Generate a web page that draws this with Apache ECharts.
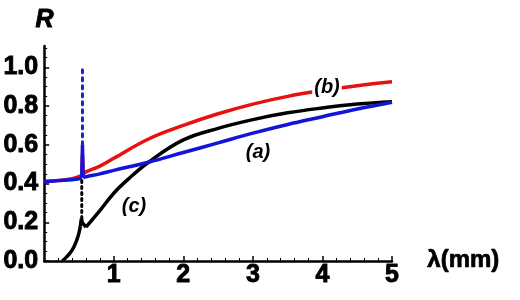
<!DOCTYPE html>
<html>
<head>
<meta charset="utf-8">
<script src="https://cdn.jsdelivr.net/npm/echarts@6/dist/echarts.min.js"></script>
<style>html,body{margin:0;padding:0;background:#fff;}#c{width:520px;height:300px;}</style>
</head>
<body>
<div id="c"></div>
<script>
// wavelength (mm) samples and reflectance values
// (a) blue
const lamA = [0, 0.2, 0.4, 0.5, 0.54, 0.55, 0.56, 0.6, 0.8, 1.0, 1.5, 2.0, 2.5, 3.0, 3.5, 4.0, 4.5, 5.0];
const valA = [0.41, 0.415, 0.42, 0.425, 0.43, 0.6, 0.43, 0.435, 0.45, 0.468, 0.51, 0.56, 0.61, 0.66, 0.705, 0.745, 0.785, 0.82];
// (b) red
const lamB = [0, 0.2, 0.4, 0.5, 0.54, 0.55, 0.56, 0.6, 0.8, 1.0, 1.5, 2.0, 2.5, 3.0, 3.5, 4.0, 4.5, 5.0];
const valB = [0.41, 0.415, 0.425, 0.435, 0.445, 0.55, 0.45, 0.46, 0.49, 0.53, 0.63, 0.70, 0.76, 0.81, 0.85, 0.88, 0.905, 0.925];
// (c) black
const lamC = [0.26, 0.32, 0.38, 0.43, 0.47, 0.5, 0.52, 0.535, 0.545, 0.6, 0.8, 1.0, 1.2, 1.5, 2.0, 2.5, 3.0, 3.5, 4.0, 4.5, 5.0];
const valC = [0, 0.02, 0.045, 0.075, 0.11, 0.145, 0.18, 0.22, 0.2, 0.175, 0.26, 0.35, 0.42, 0.51, 0.625, 0.685, 0.73, 0.765, 0.79, 0.81, 0.822];
// resonance spikes (dotted)
const spikeLamA = [0.55, 0.55];
const spikeValA = [0.6, 1.0];
const spikeLamC = [0.54, 0.54];
const spikeValC = [0.22, 0.43];
// ticks
const xTicks = [1, 2, 3, 4, 5];
const yTicks = [0, 0.2, 0.4, 0.6, 0.8, 1.0];
const xMinor = [];
for (let i = 1; i < 25; i++) if (i % 5) xMinor.push(i * 0.2);
const yMinor = [];
for (let i = 1; i <= 22; i++) if (i % 4) yMinor.push(i * 0.05);

const zip = (a, b) => a.map((v, i) => [v, b[i]]);
// split a curve at the resonance into smooth-before, sharp-resonance, smooth-after parts
function parts(lam, val, lo, hi) {
  const all = zip(lam, val);
  return [
    all.filter(p => p[0] <= lo),
    all.filter(p => p[0] >= lo && p[0] <= hi),
    all.filter(p => p[0] >= hi)
  ];
}
const font = '"Liberation Sans", Arial, sans-serif';
const heavy = { color: '#000', fontSize: 25, fontWeight: 'bold', fontFamily: font, textBorderColor: '#000', textBorderWidth: 0.9 };

function curve(lam, val, lo, hi, color, z) {
  const [a, b, c] = parts(lam, val, lo, hi);
  const ls = { color: color, width: 3.5 };
  return [
    { type: 'line', data: a, showSymbol: false, smooth: 0.4, lineStyle: ls, z: z },
    { type: 'line', data: b, showSymbol: false, smooth: false, lineStyle: ls, z: z },
    { type: 'line', data: c, showSymbol: false, smooth: 0.4, lineStyle: ls, z: z }
  ];
}

const chart = echarts.init(document.getElementById('c'));
chart.setOption({
  animation: false,
  backgroundColor: '#fff',
  grid: { left: 44, right: 128, top: 46, bottom: 39 },
  xAxis: [{
    type: 'value', min: 0, max: 5,
    axisLine: { lineStyle: { color: '#000', width: 2.5 } },
    axisTick: { inside: true, length: 5, lineStyle: { color: '#000', width: 1.5 }, customValues: xTicks },
    axisLabel: Object.assign({ customValues: xTicks, margin: 2 }, heavy),
    splitLine: { show: false }
  }, {
    type: 'value', min: 0, max: 5, position: 'bottom', gridIndex: 0,
    axisLine: { show: false },
    axisTick: { inside: true, length: 3, lineStyle: { color: '#000', width: 1 }, customValues: xMinor },
    axisLabel: { show: false },
    splitLine: { show: false }
  }],
  yAxis: [{
    type: 'value', min: 0, max: 1.11,
    axisLine: { show: true, lineStyle: { color: '#000', width: 2.5 } },
    axisTick: { show: true, inside: true, length: 5, lineStyle: { color: '#000', width: 1.5 }, customValues: yTicks },
    axisLabel: Object.assign({ customValues: yTicks, formatter: v => v.toFixed(1), margin: 6 }, heavy),
    splitLine: { show: false }
  }, {
    type: 'value', min: 0, max: 1.11, position: 'left',
    axisLine: { show: false },
    axisTick: { show: true, inside: true, length: 3, lineStyle: { color: '#000', width: 1 }, customValues: yMinor },
    axisLabel: { show: false },
    splitLine: { show: false }
  }],
  series: [].concat(
    curve(lamC, valC, 0.52, 0.6, '#000', 2),
    [{ type: 'line', data: zip(spikeLamC, spikeValC), showSymbol: false, lineStyle: { color: '#000', width: 3, type: [2, 4], cap: 'round' }, z: 2 }],
    curve(lamB, valB, 0.54, 0.56, '#e81010', 3),
    curve(lamA, valA, 0.54, 0.56, '#1414d8', 4),
    [{ type: 'line', data: zip(spikeLamA, spikeValA), showSymbol: false, lineStyle: { color: '#2020c0', width: 3, type: [3, 5], cap: 'round' }, z: 4 }]
  ),
  graphic: [
    { type: 'text', left: 35, top: 7, style: { text: 'R', fontSize: 25, fontWeight: 'bold', fontStyle: 'italic', fontFamily: font, fill: '#000', stroke: '#000', lineWidth: 0.9 } },
    { type: 'text', left: 427, top: 248, style: { text: 'λ(mm)', fontSize: 24, fontWeight: 'bold', fontFamily: font, fill: '#000', stroke: '#000', lineWidth: 0.7 } },
    { type: 'text', x: 327, y: 87, z: 10, style: { text: '(b)', align: 'center', verticalAlign: 'middle', fontSize: 20, fontWeight: 'bold', fontStyle: 'italic', fontFamily: font, fill: '#000', backgroundColor: '#fff', padding: [0, 2] } },
    { type: 'text', x: 258, y: 152, z: 10, style: { text: '(a)', align: 'center', verticalAlign: 'middle', fontSize: 20, fontWeight: 'bold', fontStyle: 'italic', fontFamily: font, fill: '#000' } },
    { type: 'text', x: 134, y: 206, z: 10, style: { text: '(c)', align: 'center', verticalAlign: 'middle', fontSize: 20, fontWeight: 'bold', fontStyle: 'italic', fontFamily: font, fill: '#000' } }
  ]
});
</script>
</body>
</html>
